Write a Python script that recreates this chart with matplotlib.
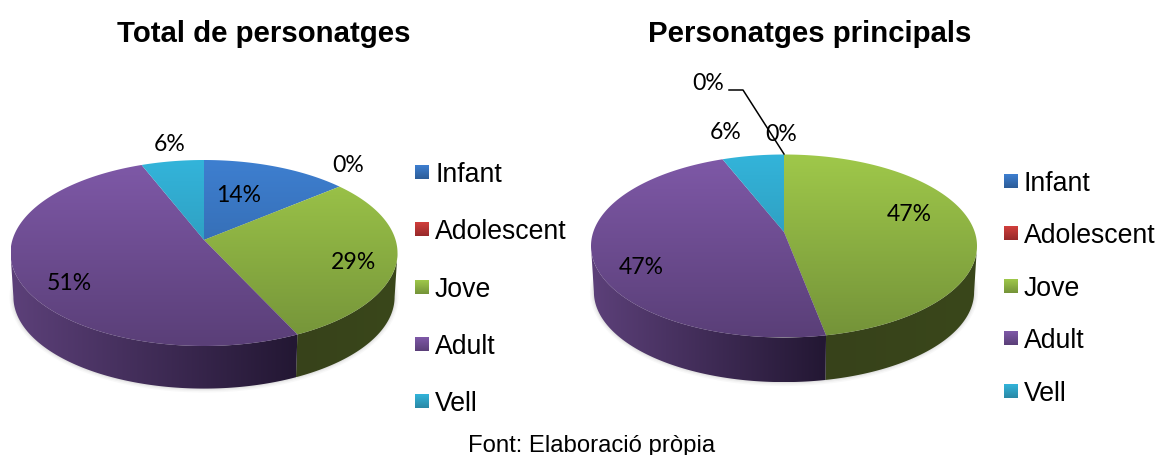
import numpy as np
import matplotlib
matplotlib.use("Agg")
import matplotlib.pyplot as plt
from matplotlib.colors import to_rgb
from matplotlib.patches import Polygon

# ---- data ----
categories = ["Infant", "Adolescent", "Jove", "Adult", "Vell"]
total_values = [14, 0, 29, 51, 6]
principal_values = [0, 0, 47, 47, 6]
titles = ["Total de personatges", "Personatges principals"]
source_text = "Font: Elaboració pròpia"

# ---- style: (top of face, bottom of face, side dark/left, side right) ----
face_top = ["#3E7FD0", "#D13F3C", "#9FC84A", "#7F59A8", "#33B4DA"]
face_bot = ["#2C5C98", "#97292A", "#749339", "#5A3F78", "#2A88A5"]
side_l = ["#1F3F6B", "#6B1F1F", "#37421A", "#5C4079", "#1D5D72"]
side_r = ["#16304F", "#501717", "#3A471B", "#231733", "#16485A"]

W, H = 1159, 456
fig = plt.figure(figsize=(W / 100, H / 100), dpi=100)
ax = fig.add_axes([0, 0, 1, 1])
ax.set_axis_off()


def project(theta, c):
    """plan angle (clockwise from 12 o'clock) -> unit-ellipse coords with perspective."""
    a, b = np.sin(theta), np.cos(theta)
    den = 1 + c * b
    return a * np.sqrt(1 - c * c) / den, (b + c) / den


def grad(poly, c0, c1, horizontal, zorder):
    poly = np.asarray(poly)
    x0, x1 = poly[:, 0].min(), poly[:, 0].max()
    y0, y1 = poly[:, 1].min(), poly[:, 1].max()
    t = np.linspace(0, 1, 64)
    col = np.outer(1 - t, to_rgb(c0)) + np.outer(t, to_rgb(c1))
    img = col[None, :, :] if horizontal else col[:, None, :]
    im = ax.imshow(np.clip(img, 0, 1), extent=[x0, x1, y1, y0], aspect="auto", origin="upper",
                   interpolation="bilinear", zorder=zorder)
    im.set_clip_path(Polygon(poly, closed=True, transform=ax.transData))


def draw_pie(values, cx, cy, rx, ry, c, depth):
    """cx, cy: centre of the rim ellipse in pixels."""
    val = np.asarray(values, float)
    edges = np.deg2rad(np.concatenate([[0], np.cumsum(val)]) / val.sum() * 360)
    top = lambda th: (cx + rx * project(th, c)[0], cy - ry * project(th, c)[1])
    bot = lambda th: (cx + rx * 0.985 * project(th, c)[0], cy + depth - ry * 0.985 * project(th, c)[1])

    # soft shadow under the side wall
    th = np.linspace(0, 2 * np.pi, 361)
    bx, by = bot(th)
    for grow, alpha in [(4, 0.05), (2.5, 0.07), (1.2, 0.10)]:
        ax.fill(cx + (bx - cx) * (1 + grow / rx), cy + depth + (by - cy - depth) * (1 + grow / ry),
                color="#808080", alpha=alpha, lw=0, zorder=1)

    # side wall: visible front arc only
    lo, hi = np.arccos(-c), 2 * np.pi - np.arccos(-c)
    for i in range(len(val)):
        s, e = max(edges[i], lo), min(edges[i + 1], hi)
        if e <= s or val[i] == 0:
            continue
        t = np.linspace(s, e, 120)
        tx, ty = top(t)
        ux, uy = bot(t)
        poly = np.r_[np.c_[tx, ty], np.c_[ux, uy][::-1]]
        grad(poly, side_l[i], side_r[i], True, 2)

    # top face
    for i in range(len(val)):
        if val[i] == 0:
            continue
        t = np.linspace(edges[i], edges[i + 1], 200)
        tx, ty = top(t)
        apex = (cx, cy - ry * c)
        poly = np.r_[[apex], np.c_[tx, ty]]
        # gradient spans the whole pie height
        t0 = (poly[:, 1].min() - (cy - ry)) / (2 * ry)
        t1 = (poly[:, 1].max() - (cy - ry)) / (2 * ry)
        ct, cb = np.array(to_rgb(face_top[i])), np.array(to_rgb(face_bot[i]))
        grad(poly, ct + (cb - ct) * t0, ct + (cb - ct) * t1, False, 3)


draw_pie(total_values, 204, 254, 193.5, 93, 0.14, 44)
draw_pie(principal_values, 784, 247, 193, 91.5, 0.153, 46)

# ---- data labels ----
label_font = dict(family="Lato", fontsize=16.6, color="#000000", ha="center", va="center", zorder=6)
left_pos = [(239, 196), (348, 166), (353, 263), (69, 284), (170, 145)]
right_pos = [(708, 84), (781, 135), (909, 215), (641, 268), (726, 133)]
for v, p in zip(total_values, left_pos):
    ax.text(p[0], p[1], f"{v}%", **label_font)
for v, p in zip(principal_values, right_pos):
    ax.text(p[0], p[1], f"{v}%", **label_font)
ax.plot([729, 743, 784], [91, 91, 155], color="black", lw=1.1, zorder=5)

# ---- legends ----
arial = dict(family="Liberation Sans", color="#000000")
for lx, ys in [(415, [173, 230, 288, 345, 402]), (1004, [182, 234, 287, 339, 392])]:
    for i, (name, y) in enumerate(zip(categories, ys)):
        sq = [(lx, y - 7), (lx + 14, y - 7), (lx + 14, y + 7), (lx, y + 7)]
        grad(sq, face_top[i], face_bot[i], False, 3)
        ax.text(lx + 20, y - 1, name, fontsize=19.2, va="center_baseline", ha="left", **arial)

# ---- titles and source ----
ax.text(264, 33.5, titles[0], fontsize=21.2, fontweight="bold", ha="center", va="center", **arial)
ax.text(810, 33.5, titles[1], fontsize=21.2, fontweight="bold", ha="center", va="center", **arial)
ax.text(591.5, 446, source_text, fontsize=17.2, ha="center", va="center", **arial)

ax.set_xlim(0, W)
ax.set_ylim(H, 0)
fig.savefig("out.png", dpi=100)
